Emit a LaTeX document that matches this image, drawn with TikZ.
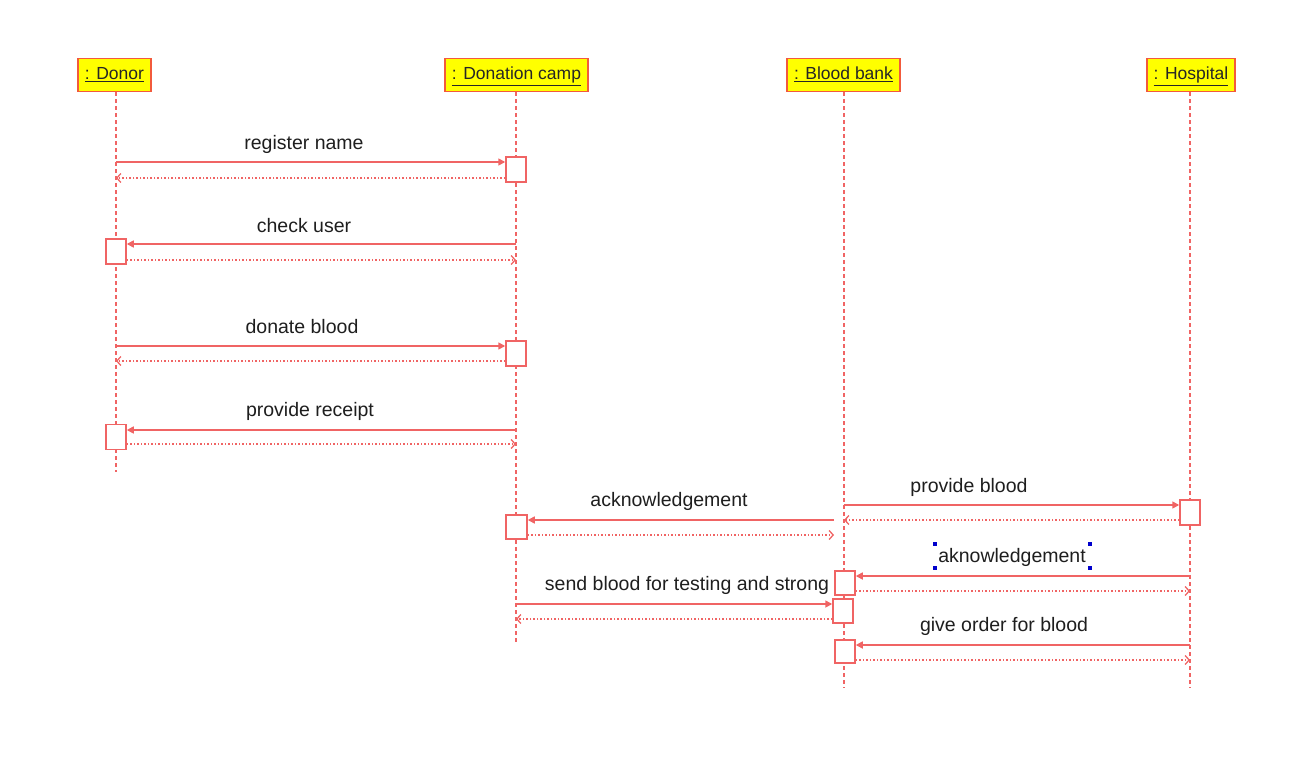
\documentclass[tikz,border=0pt]{standalone}
\usepackage{fontspec}
\setmainfont{Liberation Sans}
\usepackage{xcolor}
\usetikzlibrary{arrows.meta}

\definecolor{umlred}{HTML}{F06464}
\definecolor{headred}{HTML}{F25A3C}
\definecolor{headyellow}{HTML}{FFFF00}
\definecolor{msgtext}{HTML}{1E1E1E}

\tikzset{
    objhead/.style = {draw = headred, line width = 1.7pt, fill = headyellow, minimum height = 33pt, inner xsep = 7pt,
                      text height = 13pt, text depth = 3pt,
                      font = \fontsize{17.5}{20}\selectfont, text = black!85},
    lifeline/.style = {draw = umlred, line width = 1.4pt, dash pattern = on 4pt off 3pt},
    actbox/.style = {draw = umlred, line width = 1.5pt, fill = white, minimum width = 20pt, minimum height = 25pt, inner sep = 0pt},
    call/.style = {draw = umlred, line width = 1.6pt, -{Triangle[length = 7pt, width = 7pt]}},
    reply/.style = {draw = umlred, line width = 1.3pt, dash pattern = on 1.5pt off 2pt, -{Straight Barb[length = 4pt, width = 9pt]}},
    msg/.style = {font = \fontsize{19.5}{22}\selectfont, text = msgtext, inner sep = 0pt}
}

\begin{document}
\begin{tikzpicture}[x = 1pt, y = -1pt]
    \useasboundingbox (0, 0) rectangle (1300, 778);

    % Objects
    \node[objhead] (donor) at (114.5, 75) {\underline{: Donor}};
    %
    \node[objhead] (camp) at (516.5, 75) {\underline{: Donation camp}};
    %
    \node[objhead] (bank) at (843.5, 75) {\underline{: Blood bank}};
    %
    \node[objhead] (hosp) at (1191, 75) {\underline{: Hospital}};

    % Lifelines
    \coordinate (donorend) at (116, 472);
    \coordinate (campend) at (516, 645);
    \coordinate (bankend) at (844, 688);
    \coordinate (hospend) at (1190, 688);
    %
    \draw[lifeline] (donor.south -| donorend) -- (donorend);
    \draw[lifeline] (camp.south -| campend) -- (campend);
    \draw[lifeline] (bank.south -| bankend) -- (bankend);
    \draw[lifeline] (hosp.south -| hospend) -- (hospend);

    % Activations
    \node[actbox] (act1) at (516, 169.5) {};
    \node[actbox] (act2) at (116, 251.5) {};
    \node[actbox] (act3) at (516, 353.5) {};
    \node[actbox] (act4) at (116, 437) {};
    \node[actbox, minimum width = 21pt, minimum height = 24pt] (act5) at (516.5, 527) {};
    \node[actbox] (act6) at (1190, 512.5) {};
    \node[actbox, minimum height = 24pt] (act7) at (845, 583) {};
    \node[actbox, minimum height = 24pt] (act8) at (843, 611) {};
    \node[actbox, minimum height = 23pt] (act9) at (845, 651.5) {};

    % register name
    \coordinate (c1) at (116, 162);
    \coordinate (r1) at (116, 178);
    \draw[call] (c1) -- (c1 -| act1.west);
    \draw[reply] (r1 -| act1.west) -- (r1);
    \node[msg] (l1) at (304, 144) {register name};

    % check user
    \coordinate (c2) at (516, 244);
    \coordinate (r2) at (516, 260);
    \draw[call] (c2) -- (c2 -| act2.east);
    \draw[reply] (r2 -| act2.east) -- (r2);
    \node[msg] (l2) at (304, 226) {check user};

    % donate blood
    \coordinate (c3) at (116, 346);
    \coordinate (r3) at (116, 361);
    \draw[call] (c3) -- (c3 -| act3.west);
    \draw[reply] (r3 -| act3.west) -- (r3);
    \node[msg] (l3) at (302, 327) {donate blood};

    % provide receipt
    \coordinate (c4) at (516, 430);
    \coordinate (r4) at (516, 444);
    \draw[call] (c4) -- (c4 -| act4.east);
    \draw[reply] (r4 -| act4.east) -- (r4);
    \node[msg] (l4) at (310, 411) {provide receipt};

    % acknowledgement
    \coordinate (c5) at (834, 520);
    \coordinate (r5) at (834, 535);
    \draw[call] (c5) -- (c5 -| act5.east);
    \draw[reply] (r5 -| act5.east) -- (r5);
    \node[msg] (l5) at (669, 501) {acknowledgement};

    % provide blood
    \coordinate (c6) at (844, 505);
    \coordinate (r6) at (844, 520);
    \draw[call] (c6) -- (c6 -| act6.west);
    \draw[reply] (r6 -| act6.west) -- (r6);
    \node[msg] (l6) at (969, 487) {provide blood};

    % aknowledgement
    \coordinate (c7) at (1190, 576);
    \coordinate (r7) at (1190, 591);
    \draw[call] (c7) -- (c7 -| act7.east);
    \draw[reply] (r7 -| act7.east) -- (r7);
    \node[msg] (l7) at (1012, 557) {aknowledgement};
    \foreach \hx in {935, 1090}
        \foreach \hy in {544, 568}
            \fill[blue!80!black] (\hx - 2, \hy - 2) rectangle (\hx + 2, \hy + 2);

    % send blood for testing
    \coordinate (c8) at (516, 604);
    \coordinate (r8) at (516, 619);
    \draw[call] (c8) -- (c8 -| act8.west);
    \draw[reply] (r8 -| act8.west) -- (r8);
    \node[msg] (l8) at (687, 585) {send blood for testing and strong};

    % give order for blood
    \coordinate (c9) at (1190, 645);
    \coordinate (r9) at (1190, 660);
    \draw[call] (c9) -- (c9 -| act9.east);
    \draw[reply] (r9 -| act9.east) -- (r9);
    \node[msg] (l9) at (1004, 626) {give order for blood};
\end{tikzpicture}
\end{document}
